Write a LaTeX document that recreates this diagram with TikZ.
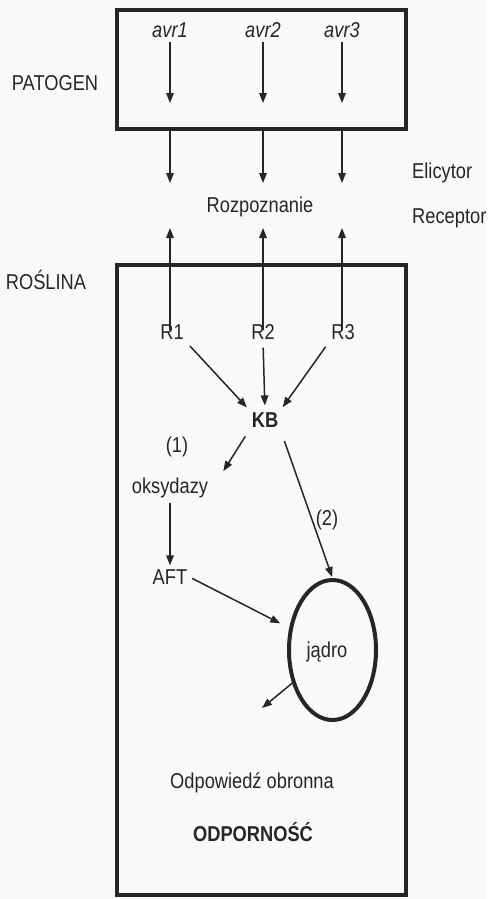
\documentclass[tikz,border=0pt]{standalone}
\usepackage{fontspec}
\setmainfont{Liberation Sans}[FakeStretch=0.85]
\usetikzlibrary{arrows.meta,shapes.geometric}
\begin{document}
\begin{tikzpicture}[x=1pt,y=-1pt,
  lbl/.style={font=\fontsize{21.5}{24}\selectfont, text=black!85, inner sep=2pt},
  arr/.style={line width=1.5pt, draw=black!85, -{Triangle[length=10pt,width=7.5pt]}},
  frame/.style={draw=black!85, line width=4pt, rectangle, inner sep=0pt}]
\fill[gray!5] (0,0) rectangle (487,899);
\useasboundingbox (0,0) rectangle (487,899);

% frames
\node[frame, minimum width=289pt, minimum height=119pt] (patbox) at (261.5,69.5) {};
\node[frame, minimum width=289pt, minimum height=630pt] (plantbox) at (261.5,580) {};

% side labels
\node[lbl] (patogen) at (55,83) {PATOGEN};
\node[lbl] (roslina) at (46,280) {ROŚLINA};
\node[lbl, anchor=west] (elicytor) at (410,173) {Elicytor};
\node[lbl, anchor=west] (receptor) at (410,218) {Receptor};

% avr genes
\node[lbl] (avr1) at (170,30) {\itshape avr1};
\node[lbl] (avr2) at (263,30) {\itshape avr2};
\node[lbl] (avr3) at (342,30) {\itshape avr3};
\coordinate (a1) at (170,103);
\coordinate (a2) at (263,103);
\coordinate (a3) at (342,103);
\draw[arr, shorten <=2pt] (avr1.south -| a1) -- (a1);
\draw[arr, shorten <=2pt] (avr2.south -| a2) -- (a2);
\draw[arr, shorten <=2pt] (avr3.south -| a3) -- (a3);

% elicitor arrows
\coordinate (e1) at (170,183);
\coordinate (e2) at (263,183);
\coordinate (e3) at (342,183);
\draw[arr] (patbox.south -| e1) -- (e1);
\draw[arr] (patbox.south -| e2) -- (e2);
\draw[arr] (patbox.south -| e3) -- (e3);

\node[lbl] (rozp) at (260,207) {Rozpoznanie};

% receptors
\node[lbl] (R1) at (172,332) {R1};
\node[lbl] (R2) at (263,332) {R2};
\node[lbl] (R3) at (343,332) {R3};
\coordinate (r1) at (170,228);
\coordinate (r2) at (263,228);
\coordinate (r3) at (342,228);
\draw[arr, shorten <=-8pt] (R1.north -| r1) -- (r1);
\draw[arr, shorten <=-8pt] (R2.north -| r2) -- (r2);
\draw[arr, shorten <=-8pt] (R3.north -| r3) -- (r3);

% KB
\node[lbl, font=\fontsize{21.5}{24}\selectfont\bfseries] (KB) at (265,420) {KB};
\draw[arr, shorten <=6pt, shorten >=4pt] (R1.south east) -- (KB.north west);
\draw[arr, shorten <=6pt, shorten >=5pt] (R2.south) -- (KB.north);
\draw[arr, shorten <=6pt, shorten >=4pt] (R3.south west) -- (KB.north east);

\node[lbl] (p1) at (177,447) {(1)};
\node[lbl] (oks) at (170,488) {oksydazy};
\draw[arr, shorten <=8pt, shorten >=2pt] (KB.south west) -- ([xshift=12pt,yshift=3pt]oks.north east);

\node[lbl] (AFT) at (170,577) {AFT};
\draw[arr, shorten <=3pt, shorten >=2pt] (oks.south) -- (AFT.north);

% nucleus
\node[draw=black!85, line width=4pt, ellipse, minimum width=87pt, minimum height=140pt, inner sep=0pt] (jadro) at (332.5,650) {};
\node[lbl] (jtext) at (327,652) {jądro};
\draw[arr, shorten <=12pt, shorten >=1pt] (KB.south east) -- (jadro.north);
\node[lbl] (p2) at (327,520) {(2)};
\draw[arr, shorten <=3pt, shorten >=10pt] (AFT.east) -- (jadro);
\coordinate (out) at (262,708);
\draw[arr] (jadro) -- (out);

\node[lbl] (odp) at (252,783) {Odpowiedź obronna};
\node[lbl, font=\fontsize{21.5}{24}\selectfont\bfseries] (odporn) at (253,832) {ODPORNOŚĆ};
\end{tikzpicture}
\end{document}
